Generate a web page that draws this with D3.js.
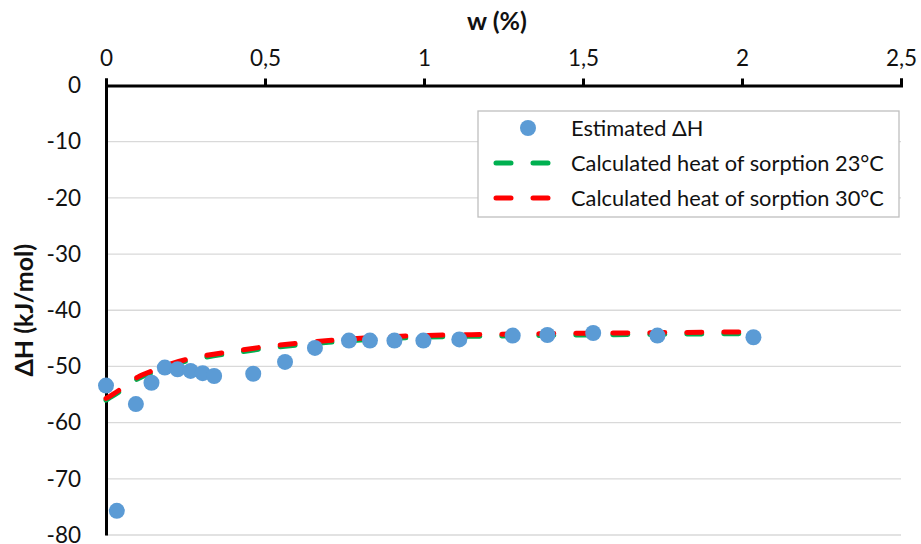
<!DOCTYPE html>
<html>
<head>
<meta charset="utf-8">
<script src="https://cdn.jsdelivr.net/npm/d3@7"></script>
<style>
  html, body { margin: 0; padding: 0; background: #fff; }
  svg { display: block; font-family: Lato, "Open Sans", sans-serif; }
</style>
</head>
<body>
<svg id="chart" width="921" height="544"></svg>
<script>
// Estimated heat of sorption from the measurements
const wEst  = [0, 0.034, 0.094, 0.143, 0.185, 0.225, 0.266, 0.304, 0.340, 0.463, 0.563, 0.657, 0.764, 0.830, 0.907, 0.998, 1.111, 1.279, 1.388, 1.532, 1.734, 2.036];
const dHEst = [-53.4, -75.7, -56.7, -52.9, -50.2, -50.5, -50.8, -51.2, -51.7, -51.3, -49.2, -46.7, -45.4, -45.4, -45.4, -45.4, -45.2, -44.5, -44.4, -44.05, -44.5, -44.8];

// Calculated heat of sorption curves
const wCurve = [0, 0.02, 0.05, 0.1, 0.15, 0.2, 0.25, 0.3, 0.4, 0.5, 0.6, 0.7, 0.8, 0.9, 1.0, 1.2, 1.4, 1.6, 1.8, 2.04];
const heat23 = [-56.0, -55.3, -54.2, -52.2, -51.0, -49.9, -49.1, -48.5, -47.6, -46.8, -46.2, -45.7, -45.3, -45.0, -44.8, -44.6, -44.45, -44.35, -44.25, -44.15];
const heat30 = [-55.7, -55.0, -53.9, -51.9, -50.7, -49.6, -48.8, -48.2, -47.3, -46.5, -45.9, -45.4, -45.0, -44.7, -44.5, -44.3, -44.15, -44.05, -43.95, -43.85];

const xTicks = [0, 0.5, 1, 1.5, 2, 2.5];
const yTicks = [0, -10, -20, -30, -40, -50, -60, -70, -80];

const legendLabels = ["Estimated ΔH", "Calculated heat of sorption 23°C", "Calculated heat of sorption 30°C"];
const colors = { est: "#5B9BD5", c23: "#00B050", c30: "#FF0000" };

const svg = d3.select("#chart");
const x = d3.scaleLinear().domain([0, 2.5]).range([106, 901]);
const y = d3.scaleLinear().domain([0, -80]).range([85.5, 535]);
const fmt = d => String(d).replace(".", ",");

// horizontal gridlines
svg.append("g")
  .selectAll("line")
  .data(yTicks.filter(d => d !== 0))
  .join("line")
  .attr("x1", x(0)).attr("x2", x(2.5))
  .attr("y1", d => y(d)).attr("y2", d => y(d))
  .attr("stroke", "#D9D9D9").attr("stroke-width", 1.3);

// top x axis
const gx = svg.append("g")
  .attr("transform", `translate(0,${y(0)})`)
  .call(d3.axisTop(x).tickValues(xTicks).tickFormat(fmt).tickSize(7).tickSizeOuter(7).tickPadding(13));
gx.select(".domain").attr("stroke", "#000").attr("stroke-width", 3);
gx.selectAll(".tick line").attr("stroke", "#000").attr("stroke-width", 3);
gx.selectAll(".tick text").attr("font-size", 22.5).attr("fill", "#111").attr("font-family", "Lato, sans-serif");

// left y axis
const gy = svg.append("g")
  .attr("transform", `translate(${x(0)},0)`)
  .call(d3.axisLeft(y).tickValues(yTicks).tickFormat(d => String(d)).tickSize(0).tickSizeOuter(0).tickPadding(25));
gy.select(".domain").attr("stroke", "#000").attr("stroke-width", 3);
gy.selectAll(".tick text").attr("font-size", 22.5).attr("fill", "#111").attr("font-family", "Lato, sans-serif");

// axis titles
svg.append("text")
  .attr("x", 497).attr("y", 30)
  .attr("text-anchor", "middle")
  .attr("font-weight", "bold").attr("font-size", 25).attr("fill", "#111")
  .text("w (%)");
svg.append("text")
  .attr("transform", `translate(33,${(y(0) + y(-80)) / 2}) rotate(-90)`)
  .attr("text-anchor", "middle")
  .attr("font-weight", "bold").attr("font-size", 25).attr("fill", "#111")
  .text("ΔH (kJ/mol)");

// calculated curves
const line = d3.line().x(d => x(d[0])).y(d => y(d[1])).curve(d3.curveMonotoneX);
const dash = "15 22";
[[heat23, colors.c23], [heat30, colors.c30]].forEach(([vals, c]) => {
  svg.append("path")
    .datum(wCurve.map((w, i) => [w, vals[i]]))
    .attr("d", line)
    .attr("fill", "none")
    .attr("stroke", c).attr("stroke-width", 5)
    .attr("stroke-linecap", "round")
    .attr("stroke-dasharray", dash);
});

// estimated points
svg.append("g")
  .selectAll("circle")
  .data(wEst.map((w, i) => [w, dHEst[i]]))
  .join("circle")
  .attr("cx", d => x(d[0])).attr("cy", d => y(d[1]))
  .attr("r", 8)
  .attr("fill", colors.est);

// legend
const lg = svg.append("g");
lg.append("rect")
  .attr("x", 478).attr("y", 111).attr("width", 421).attr("height", 106)
  .attr("fill", "#fff").attr("stroke", "#BFBFBF").attr("stroke-width", 1.3);
const rows = [128, 163, 198];
lg.append("circle").attr("cx", 528).attr("cy", rows[0]).attr("r", 8).attr("fill", colors.est);
[[colors.c23, rows[1]], [colors.c30, rows[2]]].forEach(([c, ry]) => {
  lg.append("line")
    .attr("x1", 496).attr("x2", 548).attr("y1", ry).attr("y2", ry)
    .attr("stroke", c).attr("stroke-width", 5)
    .attr("stroke-linecap", "round")
    .attr("stroke-dasharray", dash);
});
lg.selectAll("text")
  .data(legendLabels)
  .join("text")
  .attr("x", 571).attr("y", (d, i) => rows[i])
  .attr("dy", "0.35em")
  .attr("font-size", 21.8).attr("fill", "#111")
  .text(d => d);
</script>
</body>
</html>
